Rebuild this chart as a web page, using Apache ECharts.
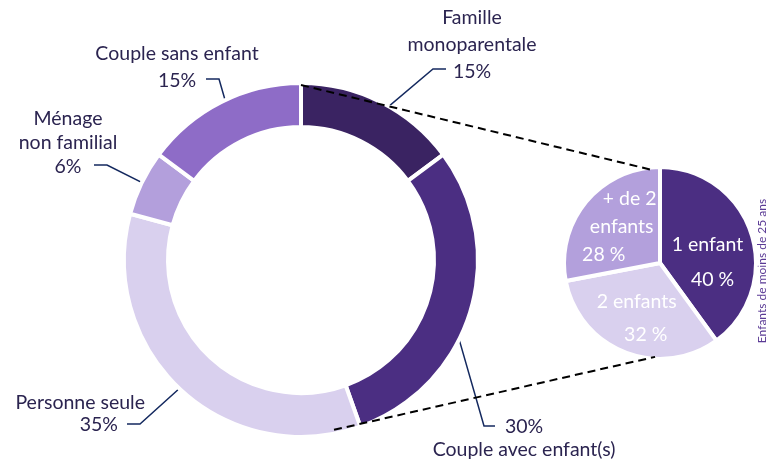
<!DOCTYPE html>
<html>
<head>
<meta charset="utf-8">
<script src="https://cdn.jsdelivr.net/npm/echarts@6.0.0/dist/echarts.min.js"></script>
<style>
  html, body { margin: 0; padding: 0; background: #fff; }
  #chart { width: 769px; height: 463px; }
</style>
</head>
<body>
<div id="chart"></div>
<script>
// household types (ring), clockwise from 12 o'clock
const householdTypes = ['Famille\nmonoparentale', 'Couple avec enfant(s)', 'Personne seule', 'Ménage\nnon familial', 'Couple sans enfant'];
const householdShares = [15, 30, 35, 6, 15];

// children under 25 in single-parent families (small pie)
const childCounts = ['1 enfant', '2 enfants', '+ de 2\nenfants'];
const childShares = [40, 32, 28];

const sideTitle = 'Enfants de moins de 25 ans';

const householdColors = ['#3a2362', '#4b2e82', '#d9d0ee', '#b39fdc', '#8e6cc7'];
const childColors = ['#4b2e82', '#d9d0ee', '#b3a0dc'];

const textColor = '#2b2450';
const leaderColor = '#14295f';
const font = 'Lato';
const symFont = 'Noto Sans';
const fontSize = 19.5;

// geometry of the two charts
const ring = { cx: 301, cy: 260, r0: 135, r: 175 };
const pie = { cx: 660, cy: 263, r: 94 };
const gap = 4;

// where each ring label sits and how its leader line bends
const ringLabelPos = [
  { x: 472, y: 4.5, align: 'center', lh: 27, pctFirst: false, elbow: [433, 69], end: [446, 69] },
  { x: 524, y: 415.5, align: 'center', lh: 23, pctFirst: true, elbow: [484, 426], end: [495, 426] },
  { x: 145, y: 392, align: 'right', lh: 22, pctFirst: false, pctPad: 27, elbow: [140, 424], end: [127, 424] },
  { x: 68, y: 107, align: 'center', lh: 24, pctFirst: false, elbow: [107, 165], end: [94, 165] },
  { x: 177, y: 40.5, align: 'center', lh: 27, pctFirst: false, elbow: [219, 79], end: [206, 79] }
];

// nudges for the labels inside the small pie (block offset + per-line shift)
const pieLabelNudge = [
  { dx: 1.5, dy: 15, lh: 35, shift: [-2.5, 2.5] },
  { dx: 0, dy: 8, lh: 33, shift: [-4.5, 4.5] },
  { dx: -2, dy: -3.5, lh: 28, shift: [11, 3, -15] }
];

function ptOnCircle(cx, cy, r, deg) {
  const a = deg * Math.PI / 180;
  return [cx + r * Math.sin(a), cy - r * Math.cos(a)];
}

const ringData = householdTypes.map((name, i) => ({
  name: name,
  value: householdShares[i],
  itemStyle: { color: householdColors[i] }
}));

const ringLabelData = householdTypes.map((name, i) => {
  const pos = ringLabelPos[i];
  return {
    name: name,
    value: householdShares[i],
    label: {
      lineHeight: pos.lh,
      rich: {
        n: { fontSize: fontSize, fontFamily: font, color: textColor, lineHeight: pos.lh },
        p: { fontSize: fontSize, fontFamily: font, color: textColor, lineHeight: pos.lh,
             padding: [0, pos.pctPad || 0, 0, 0] }
      }
    }
  };
});

// rich styles so each line inside the pie can be shifted a little
function pieRich(nudge) {
  const rich = {};
  nudge.shift.forEach((s, k) => {
    const base = { fontSize: fontSize, fontFamily: font, color: '#fff', lineHeight: nudge.lh };
    rich['s' + k] = Object.assign({}, base, { fontFamily: symFont, padding: [0, 0, 0, s > 0 ? 2 * s : 0] });
    rich['t' + k] = Object.assign({}, base, { padding: [0, s < 0 ? -2 * s : 0, 0, 0] });
    rich['f' + k] = Object.assign({}, base, { padding: [0, s < 0 ? -2 * s : 0, 0, s > 0 ? 2 * s : 0] });
  });
  return rich;
}

const childData = childCounts.map((name, i) => ({
  name: name,
  value: childShares[i],
  itemStyle: { color: childColors[i] },
  label: { lineHeight: pieLabelNudge[i].lh, rich: pieRich(pieLabelNudge[i]) }
}));

const topStart = ptOnCircle(ring.cx, ring.cy, ring.r, 0);
const topEnd = ptOnCircle(pie.cx, pie.cy, pie.r, -6);
const botStart = ptOnCircle(ring.cx, ring.cy, ring.r - 2, 169);
const botEnd = ptOnCircle(pie.cx, pie.cy, pie.r, 183);

const chart = echarts.init(document.getElementById('chart'), null, { renderer: 'canvas' });

const option = {
  animation: false,
  backgroundColor: '#fff',
  textStyle: { fontFamily: font },
  series: [
    {
      type: 'pie',
      name: 'ring',
      center: [ring.cx, ring.cy],
      radius: [ring.r0 - gap / 2, ring.r + gap / 2],
      startAngle: 90,
      clockwise: true,
      silent: true,
      label: { show: false },
      labelLine: { show: false },
      itemStyle: { borderColor: '#fff', borderWidth: gap },
      data: ringData
    },
    {
      // invisible copy of the ring, used only to anchor labels mid-ring
      type: 'pie',
      name: 'ringLabels',
      center: [ring.cx, ring.cy],
      radius: [0, (ring.r0 + ring.r) / 2],
      startAngle: 90,
      clockwise: true,
      silent: true,
      avoidLabelOverlap: false,
      itemStyle: { color: 'rgba(0,0,0,0)', borderWidth: 0 },
      label: {
        show: true,
        position: 'outside',
        fontFamily: font,
        fontSize: fontSize,
        color: textColor,
        formatter: function (p) {
          const pos = ringLabelPos[p.dataIndex];
          const nameTxt = '{n|' + p.name + '}';
          const pctTxt = '{p|' + p.value + '%}';
          return pos.pctFirst ? pctTxt + '\n' + nameTxt : nameTxt + '\n' + pctTxt;
        }
      },
      labelLine: {
        show: true,
        length: 20,
        length2: 12,
        lineStyle: { color: leaderColor, width: 1.5 }
      },
      labelLayout: function (params) {
        const pos = ringLabelPos[params.dataIndex];
        const start = params.labelLinePoints ? params.labelLinePoints[0] : pos.elbow;
        return {
          x: pos.x,
          y: pos.y,
          align: pos.align,
          verticalAlign: 'top',
          labelLinePoints: [start, pos.elbow, pos.end]
        };
      },
      data: ringLabelData
    },
    {
      type: 'pie',
      name: 'children',
      center: [pie.cx, pie.cy],
      radius: [0, pie.r + gap / 2],
      startAngle: 90,
      clockwise: true,
      silent: true,
      itemStyle: { borderColor: '#fff', borderWidth: gap },
      label: {
        show: true,
        position: 'inside',
        fontFamily: font,
        fontSize: fontSize,
        color: '#fff',
        formatter: function (p) {
          const lines = p.name.split('\n').concat([p.value + ' %']);
          return lines.map((ln, k) => {
            if (ln.charAt(0) === '+') {
              return '{s' + k + '|+}{t' + k + '|' + ln.slice(1) + '}';
            }
            return '{f' + k + '|' + ln + '}';
          }).join('\n');
        }
      },
      labelLayout: function (params) {
        const n = pieLabelNudge[params.dataIndex];
        return { dx: n.dx, dy: n.dy };
      },
      data: childData
    }
  ],
  graphic: [
    {
      type: 'line',
      z: 100,
      silent: true,
      shape: { x1: topStart[0], y1: topStart[1], x2: topEnd[0], y2: topEnd[1] },
      style: { stroke: '#000', lineWidth: 2, lineDash: [8, 5] }
    },
    {
      type: 'line',
      z: 100,
      silent: true,
      shape: { x1: botStart[0], y1: botStart[1], x2: botEnd[0], y2: botEnd[1] },
      style: { stroke: '#000', lineWidth: 2, lineDash: [8, 5] }
    },
    {
      type: 'text',
      x: 762,
      y: 271,
      rotation: Math.PI / 2,
      silent: true,
      style: {
        text: sideTitle,
        fill: '#5a3a95',
        font: '12px Lato',
        align: 'center',
        verticalAlign: 'middle'
      }
    }
  ]
};

chart.setOption(option);
window.addEventListener('resize', () => chart.resize());
</script>
</body>
</html>
